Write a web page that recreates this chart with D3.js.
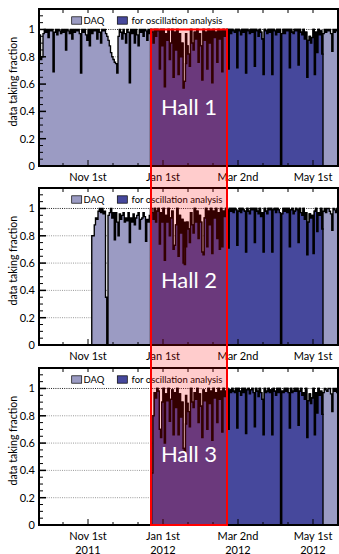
<!DOCTYPE html>
<html><head><meta charset="utf-8">
<script src="https://cdn.jsdelivr.net/npm/d3@7"></script>
<style>body{margin:0;background:#fff}svg{display:block;font-family:Lato,sans-serif}</style>
</head><body><svg id="c" width="339" height="554"></svg>
<script>
// ---- data (x in days since Nov 1st 2011, one bin per day) ----
const hallNames = ["Hall 1", "Hall 2", "Hall 3"];
const majorTickDays = [0, 60, 120, 180];
const tickLabels = ["Nov 1st", "Jan 1st", "Mar 2nd", "May 1st"];
const yearLabels = ["2011", "2012", "2012", "2012"];
const minorTickDays = [-20, 20, 40, 80, 100, 140, 160, 200];
const yTicks = [0, 0.2, 0.4, 0.6, 0.8, 1];
const yTickLabels = ["0", "0.2", "0.4", "0.6", "0.8", "1"];
const boxDays = [50.4, 111.2];
const legendLabels = ["DAQ", "for oscillation analysis"];

const daqPreStart = [-39, 3, 51];
const daqPreH1 = [
 .96,.78,.8,.97,1,.98,1,.94,1,.99,
 1,.69,.98,1,.96,1,.99,.97,1,.98,
 1,.85,1,.99,.97,1,.93,1,.98,1,
 .99,1,.97,.68,1,.98,1,.96,.92,1,
 .88,1,.97,1,.99,1,.93,1,.98,.9,
 1,.99,1,.97,.95,.92,.88,.83,.8,.78,
 .76,.75,.68,.95,1,.98,.93,1,.97,.9,
 1,.98,.61,1,.97,1,.9,1,.96,.88,
 1,.98,1,.95,1,.99,.92,1,.97];
const daqPreH2 = [
 .8,.8,.88,.93,.92,.98,1,.97,1,.96,
 .98,.35,0,.95,.97,1,.93,.97,.77,.97,
 .9,.8,.96,.92,.95,.97,.9,.93,.91,.97,
 .75,.93,.9,.96,.88,.93,.95,.97,.85,.92,
 .93,.97,.94,.76,.92,.9,.95];
const daqPreH3 = [];

const oscStart = [50, 50, 51];
const oscH1 = [
 1,.98,.9,1,.95,1,.99,.71,1,.88,
 1,.58,.97,.92,1,.78,.9,1,.65,.98,
 .85,1,.67,.97,.8,.9,.57,.62,.75,.88,
 .82,.73,1,.9,.85,.98,.93,1,.76,.97,
 .88,.63,1,.92,.98,.71,1,.9,.99,.61,
 1,.94,.98,.76,1,.93,.99,.69,1,.95,
 .99,1,.71,1,.97,1,.99,.98,1,.72,
 1,.99,.96,1,.98,1,.68,1,.99,.97,
 1,.98,1,.73,1,.99,.95,1,.98,.93,
 .67,1,.99,.97,1,.98,1,.67,1,.99,
 .96,1,.98,1,0,.97,1,.97,1,.99,
 1,.72,1,.98,.97,1,.99,1,.74,1,
 .98,.96,1,.93,.98,.65,.92,.95,.9,.94,
 1,.67,.98,.83,1,.96,.99,.82];
const oscH2 = [
 1,.97,.92,1,.9,.98,1,.74,.97,.9,
 1,.62,.95,.9,1,.8,.93,.98,.7,.73,
 .88,1,.65,.95,.82,.92,.6,.59,.72,.9,
 .85,.75,.97,.88,.82,1,.9,.98,.78,.95,
 .9,.68,.66,.93,1,.72,.98,.88,1,.67,
 .98,.93,1,.78,.97,.7,1,.72,.98,.94,
 1,.99,.71,1,.98,1,.97,1,.99,.73,
 .98,1,.97,1,.99,.98,.68,1,.98,.96,
 1,.99,1,.75,1,.98,.96,1,.94,.97,
 .68,1,.98,.96,1,.99,1,.68,.99,1,
 .97,1,.99,.97,0,.96,1,.98,1,.97,
 1,.72,.99,1,.96,.98,1,.99,.75,1,
 .97,.95,1,.92,.97,.66,.9,.96,.93,.95,
 .67,.98,1,.83,.97,.95,1,.85];
const oscH3 = [
 .38,.8,.97,.93,1,.98,.7,.64,.9,
 1,.6,.96,.91,1,.76,.92,.99,.66,.97,
 .86,1,.66,.96,.79,.9,.56,.54,.74,.89,
 .83,.72,1,.9,.86,.97,.92,1,.75,.96,
 .87,.64,.99,.91,.97,.7,1,.89,.98,.62,
 1,.93,.97,.75,1,.92,.98,.68,1,.94,
 .98,1,.7,.99,.97,1,.98,.97,1,.71,
 1,.98,.95,1,.97,1,.67,.99,1,.96,
 .99,1,.97,.72,1,.98,.94,1,.97,.92,
 .66,1,.97,.98,1,.97,.99,.66,1,.98,
 .95,1,.97,1,0,.98,.97,1,.98,1,
 .97,.71,1,.97,.98,1,.98,1,.73,.98,
 1,.95,.97,.92,1,.64,.91,.96,.89,.93,
 1,.66,.97,.82,1,.95,.98,.81];
// DAQ bins inside the oscillation period where DAQ exceeded the analysis fraction
const daqOverH1 = [[78,.97],[91,.8],[154,.72]];
const daqOverH2 = [[77,.9],[154,.72]];
const daqOverH3 = [[78,.95],[154,.7]];
const daqPostH1 = [.97,1,.98,1,.99,1,.97,.84,1,.98,1,.99,1];
const daqPostH2 = [.98,1,.97,1,1,.98,.96,.84,1,.99,.97,1,1];
const daqPostH3 = [.97,1,.99,.98,1,1,.96,.83,1,.98,1,.97,1];

const daqPre = [daqPreH1, daqPreH2, daqPreH3];
const oscAll = [oscH1, oscH2, oscH3];
const daqOver = [daqOverH1, daqOverH2, daqOverH3];
const daqPost = [daqPostH1, daqPostH2, daqPostH3];

// ---- layout ----
const colDAQ = "#9b9bc3", colOsc = "#46489c";
const panelTops = [9, 188, 368], panelH = 157;
const hallBaselines = [114.5, 288, 462];
const svg = d3.select("#c");
const x = d3.scaleLinear().domain([-39.2, 200.8]).range([39, 339]);

function histPath(y, start, vals) {
  const pts = [[start, 0]];
  vals.forEach((v, i) => pts.push([start + i, v]));
  pts.push([start + vals.length, 0]);
  return d3.line().x(p => x(p[0])).y(p => y(p[1])).curve(d3.curveStepAfter)(pts);
}

const ys = [];
panelTops.forEach((top, h) => {
  const bottom = top + panelH;
  const y = d3.scaleLinear().domain([0, 1.15]).range([bottom, top]);
  ys.push(y);
  const g = svg.append("g");
  // grid
  yTicks.slice(1).forEach(t => {
    g.append("line").attr("x1", 40).attr("x2", 338).attr("y1", y(t)).attr("y2", y(t))
      .attr("stroke", t === 1 ? "#222" : "#999").attr("stroke-width", 1)
      .attr("stroke-dasharray", "1,1.2");
  });
  // DAQ histogram
  const pre = daqPre[h], osc = oscAll[h], os = oscStart[h];
  const daqMid = osc.map((v, i) => { const o = daqOver[h].find(p => p[0] === os + i); return o ? o[1] : v; });
  const daqVals = [...pre, ...daqMid, ...daqPost[h]];
  const dStart = pre.length ? daqPreStart[h] : os;
  g.append("path").attr("d", histPath(y, dStart, daqVals))
    .attr("fill", colDAQ).attr("stroke", "#000").attr("stroke-width", 1.35);
  g.append("path").attr("d", histPath(y, os, osc))
    .attr("fill", colOsc).attr("stroke", "#000").attr("stroke-width", 1.35);
  // ticks
  majorTickDays.forEach(d => {
    g.append("line").attr("x1", x(d)).attr("x2", x(d)).attr("y1", bottom).attr("y2", bottom - 6).attr("stroke", "#000");
    g.append("line").attr("x1", x(d)).attr("x2", x(d)).attr("y1", top).attr("y2", top + 4).attr("stroke", "#000");
  });
  minorTickDays.forEach(d => {
    g.append("line").attr("x1", x(d)).attr("x2", x(d)).attr("y1", bottom).attr("y2", bottom - 3).attr("stroke", "#000");
    g.append("line").attr("x1", x(d)).attr("x2", x(d)).attr("y1", top).attr("y2", top + 4).attr("stroke", "#000");
  });
  d3.range(0, 1.151, 0.05).forEach(t => {
    const major = Math.abs(t * 5 - Math.round(t * 5)) < 1e-6;
    g.append("line").attr("x1", 39).attr("x2", 39 + (major ? 7 : 4)).attr("y1", y(t)).attr("y2", y(t))
      .attr("stroke", "#000").attr("stroke-width", major ? 1.5 : 1);
  });
  // frame
  g.append("path").attr("d", `M39,${top}H338V${bottom}H39Z`).attr("fill", "none").attr("stroke", "#000").attr("stroke-width", 2);
  // tick labels
  yTicks.forEach((t, i) => {
    g.append("text").attr("x", 35).attr("y", y(t) + 4).attr("text-anchor", "end")
      .attr("font-size", 11).text(yTickLabels[i]);
  });
  majorTickDays.forEach((d, i) => {
    g.append("text").attr("x", x(d)).attr("y", bottom + 14.5).attr("text-anchor", "middle")
      .attr("font-size", 11).text(tickLabels[i]);
    if (h === 2) g.append("text").attr("x", x(d)).attr("y", bottom + 28.5).attr("text-anchor", "middle")
      .attr("font-size", 11).text(yearLabels[i]);
  });
  // axis title
  g.append("text").attr("transform", `translate(17,${top + 28}) rotate(-90)`).attr("text-anchor", "end")
    .attr("font-size", 10.5).text("data taking fraction");
  // legend
  const ly = top + 11.5;
  [[71.7, colDAQ, 83.5], [117.3, colOsc, 131.5]].forEach((L, i) => {
    g.append("rect").attr("x", L[0]).attr("y", ly - 3.7).attr("width", 10).attr("height", 7.4)
      .attr("fill", L[1]).attr("stroke", "#000").attr("stroke-width", 0.7);
    g.append("text").attr("x", L[2]).attr("y", ly + 3.3).attr("font-size", 9.5).text(legendLabels[i]);
  });
});

// highlight box across panels
const bx0 = x(boxDays[0]), bx1 = x(boxDays[1]);
const by0 = ys[0](1), by1 = ys[2](0);
svg.append("rect").attr("x", bx0).attr("y", by0).attr("width", bx1 - bx0).attr("height", by1 - by0)
  .attr("fill", "rgba(255,0,0,0.2)").attr("stroke", "#f00").attr("stroke-width", 2);
hallNames.forEach((n, i) => {
  svg.append("text").attr("x", (bx0 + bx1) / 2).attr("y", hallBaselines[i]).attr("text-anchor", "middle")
    .attr("font-size", 22).attr("fill", "#fff").text(n);
});
</script></body></html>
